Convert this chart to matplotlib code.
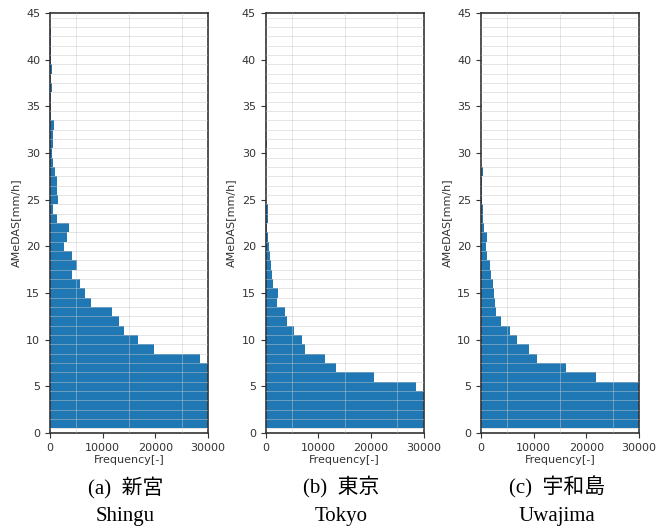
import numpy as np
import matplotlib
matplotlib.use("Agg")
import matplotlib.pyplot as plt

# rainfall bins (mm/h), bar centers
rain_bins = list(range(1, 46))

shingu = [200000, 150000, 110000, 80000, 60000, 45000, 34000,
          28500, 19700, 16700, 14100, 13200, 11800, 7760, 6680, 5720,
          4260, 5090, 4260, 2730, 3300, 3630, 1270, 640, 1530, 1400,
          1270, 950, 570, 445, 570, 510, 800, 190, 190, 130, 380, 130,
          445, 130, 100, 100, 100, 60, 0]

tokyo = [150000, 100000, 60000, 40000,
         28500, 20500, 13300, 11300, 7480, 6970, 5450, 4060, 3680, 2090,
         2410, 1460, 1140, 1010, 890, 630, 440, 250, 350, 350, 60, 60,
         120, 120, 40, 60, 320, 20, 20, 10, 10, 10, 0, 0, 0, 0, 0, 0, 0, 0, 0]

uwajima = [150000, 100000, 70000, 50000, 36000,
           21900, 16100, 10600, 9160, 6890, 5440, 3790, 2840, 2650, 2460,
           2210, 1960, 1710, 1200, 900, 1100, 500, 300, 300, 150, 150, 130,
           440, 60, 40, 30, 20, 20, 20, 20, 20, 20, 20, 20, 20, 20, 20, 20,
           40, 0]

captions = ["(a)  新宮", "(b)  東京", "(c)  宇和島"]
names = ["Shingu", "Tokyo", "Uwajima"]
x_ticks = [0, 10000, 20000, 30000]
y_ticks = list(range(0, 46, 5))

fig = plt.figure(figsize=(6.7, 5.29), dpi=100)
lefts = [0.0746, 0.3966, 0.7179]
bottom, height, width = 0.1815, 0.794, 0.2358

serif_cjk = ['Liberation Serif', 'Noto Sans CJK JP']

for i, data in enumerate([shingu, tokyo, uwajima]):
    ax = fig.add_axes([lefts[i], bottom, width, height])
    ax.barh(rain_bins, data, height=1.0, color='#1f77b4', zorder=1)
    ax.set_xlim(0, 30000)
    ax.set_ylim(0, 45)
    ax.set_xticks(x_ticks)
    ax.set_yticks(y_ticks)
    ax.set_xticks(np.arange(0, 30001, 5000), minor=True)
    ax.set_yticks(np.arange(0.5, 45, 1.0), minor=True)
    ax.tick_params(which='minor', length=0)
    ax.tick_params(which='major', labelsize=8, colors='#333333', length=3.5, width=0.8)
    ax.grid(which='minor', color='#c8c8c8', lw=0.6, alpha=0.55, zorder=3)
    ax.set_axisbelow(False)
    for s in ax.spines.values():
        s.set_color('#333333')
        s.set_linewidth(1.2)
    ax.set_xlabel("Frequency[-]", fontsize=8, color='#333333', labelpad=2)
    ax.set_ylabel("AMeDAS[mm/h]", fontsize=8, color='#333333', labelpad=4)
    cx = lefts[i] + width / 2 - 0.005
    fig.text(cx, 1 - 487 / 529, captions[i], ha='center', va='center',
             fontsize=15, family=serif_cjk)
    fig.text(cx, 1 - 517 / 529, names[i], ha='center', va='center',
             fontsize=15, family=serif_cjk)

fig.savefig("out.png", dpi=100)
